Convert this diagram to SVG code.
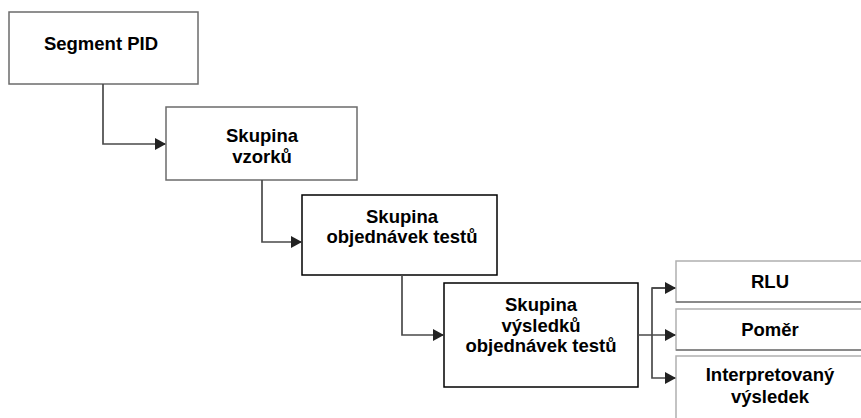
<svg xmlns="http://www.w3.org/2000/svg" width="861" height="418" viewBox="0 0 861 418">
<style>
text{font-family:"Liberation Sans",Arial,sans-serif;font-weight:bold;font-size:18.5px;fill:#000;text-anchor:middle}
.b{fill:#fff;stroke-width:1.5}
.g{stroke:#6b6b6b}
.k{stroke:#000}
.l{stroke:#b0b0b0}
.c{fill:none;stroke:#4a4a4a;stroke-width:1.7}
</style>
<defs>
<marker id="a" markerWidth="11" markerHeight="12" refX="10" refY="6" orient="auto" markerUnits="userSpaceOnUse">
<path d="M0,0 L11,6 L0,12 Z" fill="#222"/>
</marker>
</defs>
<g id="n1"><rect class="b g" x="9" y="12" width="189" height="72"/><text x="101" y="50">Segment PID</text></g>
<g id="n2"><rect class="b g" x="166" y="107" width="191" height="73"/><text x="262" y="142">Skupina</text><text x="262" y="163">vzorků</text></g>
<g id="n3"><rect class="b k" x="302" y="195" width="195" height="80"/><text x="402" y="223">Skupina</text><text x="402" y="243">objednávek testů</text></g>
<g id="n4"><rect class="b k" x="444" y="283" width="194" height="104"/><text x="541" y="311">Skupina</text><text x="541" y="332">výsledků</text><text x="541" y="352">objednávek testů</text></g>
<g id="n5"><rect class="b l" x="676" y="261" width="190" height="41"/><line x1="676" y1="302" x2="861" y2="302" stroke="#777" stroke-width="1.5"/><text x="770" y="288">RLU</text></g>
<g id="n6"><rect class="b l" x="676" y="309" width="190" height="41"/><line x1="676" y1="350" x2="861" y2="350" stroke="#777" stroke-width="1.5"/><text x="770" y="336">Poměr</text></g>
<g id="n7"><rect class="b l" x="676" y="356" width="190" height="70"/><text x="770" y="381">Interpretovaný</text><text x="770" y="403">výsledek</text></g>
<g id="connectors">
<path class="c" d="M103,84 V144 H165" marker-end="url(#a)"/>
<path class="c" d="M262,180 V242 H301" marker-end="url(#a)"/>
<path class="c" d="M402,275 V335 H443" marker-end="url(#a)"/>
<path class="c" d="M638,335 H675" marker-end="url(#a)"/>
<path class="c" d="M675,288 H652 V378 H675" marker-end="url(#a)"/>
<path class="c" d="M652,288 H675" marker-end="url(#a)"/>
</g>
</svg>
